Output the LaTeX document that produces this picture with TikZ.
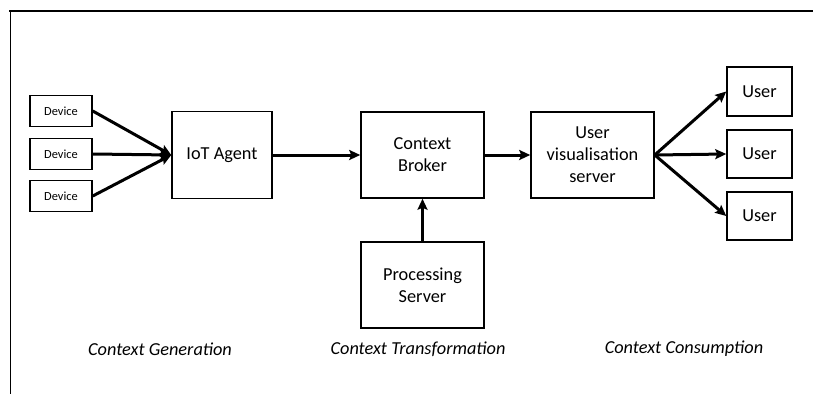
\documentclass[tikz,border=0pt]{standalone}
\usepackage{fontspec}
\setmainfont{Carlito}
\usetikzlibrary{arrows.meta}
\begin{document}
\begin{tikzpicture}[x=1pt,y=-1pt,
  box/.style={draw,line width=1.5pt,inner sep=0pt,align=center,font=\fontsize{18.3}{22}\selectfont},
  dev/.style={draw,line width=1.5pt,inner sep=0pt,font=\fontsize{12.4}{14}\selectfont},
  conn/.style={line width=3pt,-{Stealth[length=11pt,width=10pt,inset=2pt]}},
  lbl/.style={font=\fontsize{18.3}{22}\selectfont\itshape}]
\useasboundingbox (0,0) rectangle (813,394);
\draw[line width=2pt] (813,11) -- (9,11);
\draw[line width=1pt] (10,11) -- (10,394);
% devices
\node[dev,minimum width=62pt,minimum height=31pt] (d1) at (61,111) {Device};
\node[dev,minimum width=62pt,minimum height=31pt] (d2) at (61,154) {Device};
\node[dev,minimum width=62pt,minimum height=31pt] (d3) at (61,196) {Device};
\node[box,minimum width=100pt,minimum height=87pt] (iot) at (222,155) {IoT Agent};
\node[box,minimum width=123pt,minimum height=86pt] (cb) at (422.5,155) {Context\\Broker};
\node[box,minimum width=123pt,minimum height=86pt] (uvs) at (592.5,155) {User\\visualisation\\server};
\node[box,minimum width=123pt,minimum height=86pt] (ps) at (422.5,285) {Processing\\Server};
\node[box,minimum width=65pt,minimum height=49pt] (u1) at (759.5,91.5) {User};
\node[box,minimum width=65pt,minimum height=48pt] (u2) at (759.5,154) {User};
\node[box,minimum width=65pt,minimum height=48pt] (u3) at (759.5,216) {User};
% connectors
\draw[conn] (d1.east) -- (iot.west);
\draw[conn] (d2.east) -- (iot.west);
\draw[conn] (d3.east) -- (iot.west);
\draw[conn] (iot.east) -- (cb.west);
\draw[conn] (cb.east) -- (uvs.west);
\draw[conn] (ps.north) -- (cb.south);
\draw[conn] (uvs.east) -- (u1.west);
\draw[conn] (uvs.east) -- (u2.west);
\draw[conn] (uvs.east) -- (u3.west);
% labels
\node[lbl] (g) at (160,349) {Context Generation};
\node[lbl] (t) at (418,349) {Context Transformation};
\node[lbl] (c) at (684,349) {Context Consumption};
\end{tikzpicture}
\end{document}
